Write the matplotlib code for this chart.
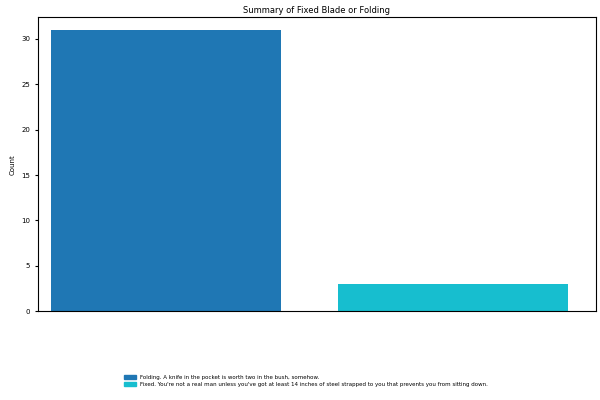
import matplotlib
matplotlib.use("Agg")
import matplotlib.pyplot as plt
from matplotlib.patches import Patch

categories = ["Folding. A knife in the pocket is worth two in the bush, somehow.",
              "Fixed. You're not a real man unless you've got at least 14 inches of steel strapped to you that prevents you from sitting down."]
counts = [31, 3]
colors = ["#1f77b4", "#17becf"]

fig = plt.figure(figsize=(6, 4), dpi=100)
ax = fig.add_axes([0.063, 0.222, 0.93, 0.735])
x = range(len(categories))
ax.bar(x, counts, color=colors, width=0.8)
ax.set_xticks([])
ax.set_xlim(-0.446, 1.498)
ax.set_ylim(0, 32.4)
ax.set_ylabel("Count", fontsize=5)
ax.tick_params(labelsize=5, length=2)
ax.set_title("Summary of Fixed Blade or Folding", fontsize=6, pad=3)
handles = [Patch(color=c) for c in colors]
fig.legend(handles, categories, loc="lower left", bbox_to_anchor=(0.198, 0.02),
           fontsize=4.0, frameon=False, handlelength=2.2, handleheight=0.9, labelspacing=0.35)
fig.savefig("out.png", dpi=100)
